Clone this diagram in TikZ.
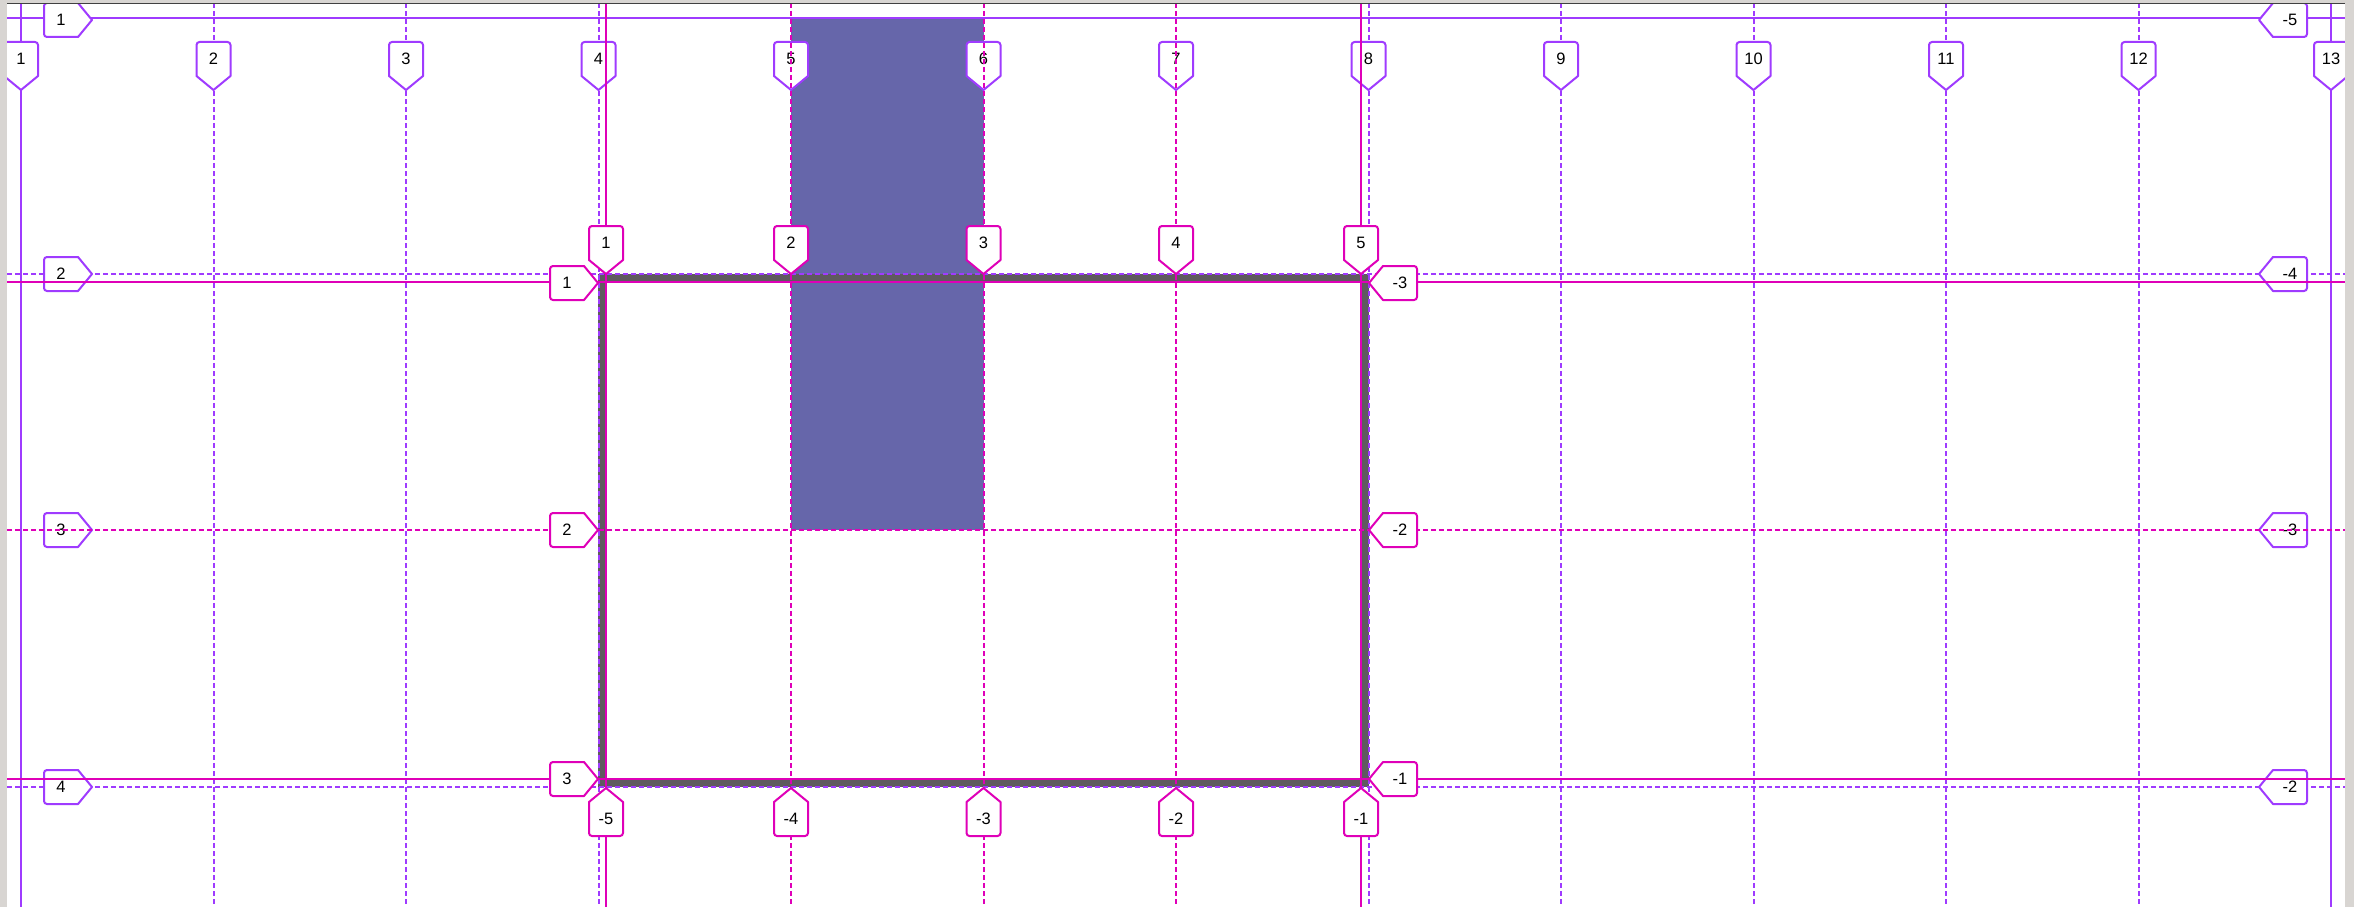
\documentclass[tikz,border=0pt]{standalone}
\usepackage{fontspec}
\setmainfont{Liberation Sans}
\usepackage{xcolor}
\usetikzlibrary{positioning}

\definecolor{gridpurple}{HTML}{9F3BFF}
\definecolor{gridmagenta}{HTML}{DF00B8}
\definecolor{itemblue}{HTML}{6666AA}
\definecolor{boxgray}{HTML}{5F5A5F}
\definecolor{framegray}{HTML}{D8D5D2}

\tikzset{
  gridsolid/.style={line width=2pt},
  griddashed/.style={line width=2pt, dash pattern=on 5pt off 3pt},
  tagline/.style={fill=white, line width=2pt, line join=round},
  tagtext/.style={inner sep=0pt, font=\fontsize{16.5}{18}\selectfont}
}

% tags: name, colour, tip x, tip y, text
\newcommand{\downtag}[5]{%
  \filldraw[tagline, draw=#2] ({#3},{#4}) -- ++(17,-14) [rounded corners=3pt] -- ++(0,-34) -- ++(-34,0) [sharp corners] -- ++(0,34) -- cycle;
  \node[tagtext] (#1) at ({#3},{#4-31}) {#5};}
\newcommand{\uptag}[5]{%
  \filldraw[tagline, draw=#2] ({#3},{#4}) -- ++(17,14) [rounded corners=3pt] -- ++(0,34) -- ++(-34,0) [sharp corners] -- ++(0,-34) -- cycle;
  \node[tagtext] (#1) at ({#3},{#4+31}) {#5};}
\newcommand{\righttag}[5]{%
  \filldraw[tagline, draw=#2] ({#3},{#4}) -- ++(-14,-17) [rounded corners=3pt] -- ++(-34,0) -- ++(0,34) [sharp corners] -- ++(34,0) -- cycle;
  \node[tagtext] (#1) at ({#3-31},{#4}) {#5};}
\newcommand{\lefttag}[5]{%
  \filldraw[tagline, draw=#2] ({#3},{#4}) -- ++(14,-17) [rounded corners=3pt] -- ++(34,0) -- ++(0,34) [sharp corners] -- ++(-34,0) -- cycle;
  \node[tagtext] (#1) at ({#3+31},{#4}) {#5};}

\begin{document}
\begin{tikzpicture}[x=1pt, y=-1pt]
    \useasboundingbox (0,0) rectangle (2354,907);
    \fill[white] (0,0) rectangle (2354,907);

    % Grid item
    \fill[itemblue] (791,18) rectangle (983.5,530);

    % Container border
    \draw[boxgray, line width=8pt] (602,278) rectangle (1365,783);

    % Outer grid lines
    \foreach \i [evaluate=\i as \xx using 21+192.5*(\i-1)] in {2,...,12}
        \draw[griddashed, gridpurple] (\xx,3) -- (\xx,907);
    \draw[gridsolid, gridpurple] (21,3) -- (21,907);
    \draw[gridsolid, gridpurple] (2331,3) -- (2331,907);
    \draw[gridsolid, gridpurple] (7,18) -- (2345,18);
    \foreach \yy in {274,530,787}
        \draw[griddashed, gridpurple] (7,\yy) -- (2345,\yy);

    % Outer grid labels
    \foreach \i [evaluate=\i as \xx using 21+192.5*(\i-1)] in {1,...,13}
        \downtag{otop\i}{gridpurple}{\xx}{90}{\i};
    \foreach \yy/\a/\b in {20/1/-5, 274/2/-4, 530/3/-3, 787/4/-2} {
        \righttag{oleft\a}{gridpurple}{92}{\yy}{\a};
        \lefttag{oright\a}{gridpurple}{2259}{\yy}{\b};
    }

    % Inner grid lines
    \foreach \xx in {606,1361}
        \draw[gridsolid, gridmagenta] (\xx,3) -- (\xx,907);
    \foreach \xx in {791,983.5,1176}
        \draw[griddashed, gridmagenta] (\xx,3) -- (\xx,907);
    \foreach \yy in {282,779}
        \draw[gridsolid, gridmagenta] (7,\yy) -- (2345,\yy);
    \draw[griddashed, gridmagenta] (7,530) -- (2345,530);

    % Inner grid labels
    \foreach \xx/\a/\b in {606/1/-5, 791/2/-4, 983.5/3/-3, 1176/4/-2, 1361/5/-1} {
        \downtag{itop\a}{gridmagenta}{\xx}{274}{\a};
        \uptag{ibot\a}{gridmagenta}{\xx}{788}{\b};
    }
    \foreach \yy/\a/\b in {283/1/-3, 530/2/-2, 779/3/-1} {
        \righttag{ileft\a}{gridmagenta}{598}{\yy}{\a};
        \lefttag{iright\a}{gridmagenta}{1369}{\yy}{\b};
    }

    % Viewport frame
    \fill[framegray] (0,0) rectangle (2354,3);
    \fill[framegray] (0,0) rectangle (7,907);
    \fill[framegray] (2345,0) rectangle (2354,907);
    \draw[black!75, line width=1.5pt] (7,3.5) -- (2345,3.5);
\end{tikzpicture}
\end{document}
